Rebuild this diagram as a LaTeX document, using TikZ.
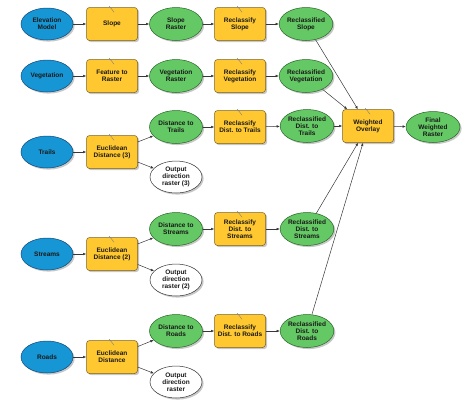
\documentclass[tikz,border=0pt]{standalone}
\usepackage{fontspec}
\setmainfont{Liberation Sans}
\usetikzlibrary{shapes.geometric,shadows,arrows.meta}
\definecolor{datablue}{RGB}{22,150,212}
\definecolor{datablueline}{RGB}{20,70,120}
\definecolor{toolyellow}{RGB}{255,200,48}
\definecolor{toolline}{RGB}{120,95,30}
\definecolor{outgreen}{RGB}{100,200,100}
\definecolor{outgreenline}{RGB}{40,100,40}
\definecolor{linkgray}{RGB}{55,55,55}
\newcommand{\toolmark}[1]{\draw[gray,line width=0.4pt] ([shift={(-3,-1)}]#1.north) -- ([shift={(-1,1)}]#1.north) -- ([shift={(2,5)}]#1.north);}
\begin{document}
\begin{tikzpicture}[x=1pt,y=-1pt,
  every node/.style={font=\fontsize{6.5}{7}\selectfont\bfseries, align=center, text=black!90, inner sep=0pt},
  shade/.style={drop shadow={shadow xshift=1.6pt, shadow yshift=-1.6pt, fill=black!40, opacity=0.55}},
  indata/.style={ellipse, draw=datablueline, line width=0.5pt, fill=datablue, minimum width=52, minimum height=32, shade},
  tool/.style={rectangle, rounded corners=3pt, draw=toolline, line width=0.5pt, fill=toolyellow, minimum width=51, minimum height=33, shade},
  outdata/.style={ellipse, draw=outgreenline, line width=0.5pt, fill=outgreen, minimum width=53, minimum height=33, shade},
  spare/.style={ellipse, draw=black!80, line width=0.5pt, fill=white, minimum width=52, minimum height=32, shade},
  link/.style={draw=linkgray, line width=0.5pt, -{Latex[length=3.2pt,width=2.6pt]}}]
\useasboundingbox (0,0) rectangle (470,407);
% row 1
\node[indata] (elev) at (47,24) {Elevation\\Model};
\node[tool] (slope) at (112,24) {Slope};
\node[outdata] (sloper) at (176,24) {Slope\\Raster};
\node[tool] (rslope) at (240,24) {Reclassify\\Slope};
\node[outdata] (rdslope) at (306,24) {Reclassified\\Slope};
% row 2
\node[indata] (veg) at (47,76) {Vegetation};
\node[tool] (f2r) at (112,76) {Feature to\\Raster};
\node[outdata] (vegr) at (176,76) {Vegetation\\Raster};
\node[tool] (rveg) at (240,76) {Reclassify\\Vegetation};
\node[outdata] (rdveg) at (306,76) {Reclassified\\Vegetation};
% trails
\node[indata] (trails) at (47,152) {Trails};
\node[tool] (ed3) at (112,152) {Euclidean\\Distance (3)};
\node[outdata] (dtrails) at (176,127) {Distance to\\Trails};
\node[spare] (out3) at (176,177) {Output\\direction\\raster (3)};
\node[tool] (rtrails) at (240,127) {Reclassify\\Dist. to Trails};
\node[outdata] (rdtrails) at (307,126) {Reclassified\\Dist. to\\Trails};
\node[tool] (wo) at (368,126) {Weighted\\Overlay};
\node[outdata, minimum width=54, minimum height=31] (final) at (433,127) {Final\\Weighted\\Raster};
% streams
\node[indata] (streams) at (47,254) {Streams};
\node[tool] (ed2) at (112,254) {Euclidean\\Distance (2)};
\node[outdata] (dstreams) at (176,229) {Distance to\\Streams};
\node[spare] (out2) at (176,280) {Output\\direction\\raster (2)};
\node[tool] (rstreams) at (240,229) {Reclassify\\Dist. to\\Streams};
\node[outdata] (rdstreams) at (307,229) {Reclassified\\Dist. to\\Streams};
% roads
\node[indata] (roads) at (47,357) {Roads};
\node[tool] (ed1) at (112,357) {Euclidean\\Distance};
\node[outdata] (droads) at (176,331) {Distance to\\Roads};
\node[spare] (out1) at (176,382) {Output\\direction\\raster};
\node[tool] (rroads) at (240,331) {Reclassify\\Dist. to Roads};
\node[outdata] (rdroads) at (307,331) {Reclassified\\Dist. to\\Roads};
% tool marks
\foreach \t in {slope,rslope,f2r,rveg,ed3,rtrails,wo,ed2,rstreams,ed1,rroads} {\toolmark{\t}}
% links
\draw[link] (elev) -- (slope);
\draw[link] (slope) -- (sloper);
\draw[link] (sloper) -- (rslope);
\draw[link] (rslope) -- (rdslope);
\draw[link] (veg) -- (f2r);
\draw[link] (f2r) -- (vegr);
\draw[link] (vegr) -- (rveg);
\draw[link] (rveg) -- (rdveg);
\draw[link] (trails) -- (ed3);
\draw[link] (ed3) -- (dtrails);
\draw[link] (ed3) -- (out3);
\draw[link] (dtrails) -- (rtrails);
\draw[link] (rtrails) -- (rdtrails);
\draw[link] (streams) -- (ed2);
\draw[link] (ed2) -- (dstreams);
\draw[link] (ed2) -- (out2);
\draw[link] (dstreams) -- (rstreams);
\draw[link] (rstreams) -- (rdstreams);
\draw[link] (roads) -- (ed1);
\draw[link] (ed1) -- (droads);
\draw[link] (ed1) -- (out1);
\draw[link] (droads) -- (rroads);
\draw[link] (rroads) -- (rdroads);
\draw[link] (rdslope) -- (wo);
\draw[link] (rdveg) -- (wo);
\draw[link] (rdtrails) -- (wo);
\draw[link] (rdstreams) -- (wo);
\draw[link] (rdroads) -- (wo);
\draw[link] (wo) -- (final);
\end{tikzpicture}
\end{document}
